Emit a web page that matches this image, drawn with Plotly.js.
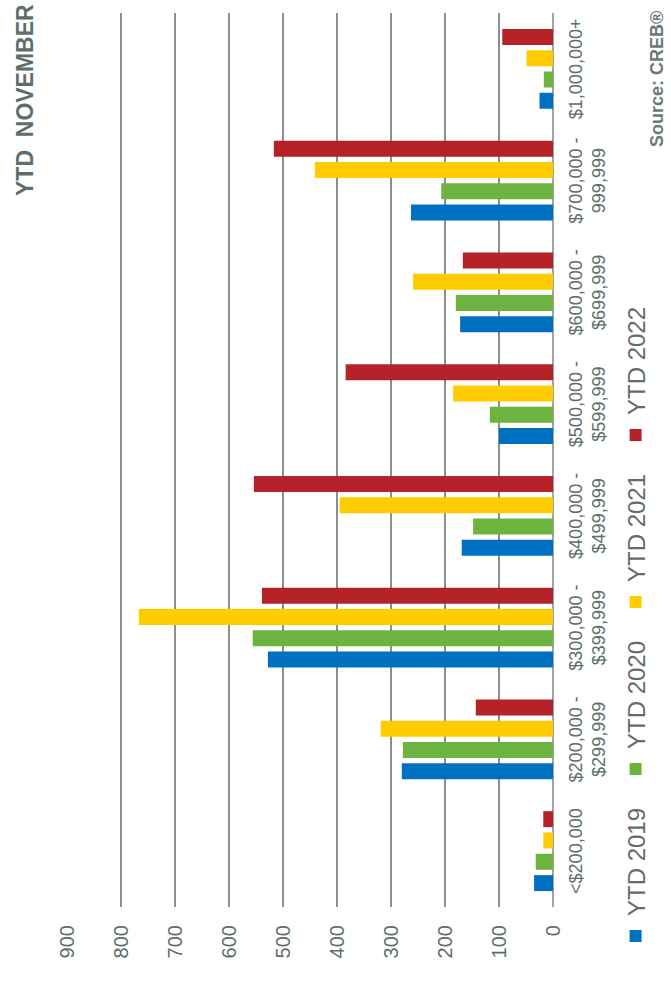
<!DOCTYPE html>
<html>
<head>
<meta charset="utf-8">
<script src="https://cdn.plot.ly/plotly-3.0.1.min.js"></script>
<style>
  html, body { margin: 0; padding: 0; background: #ffffff; }
  #wrap { position: relative; width: 671px; height: 994px; overflow: hidden; background: #fff; }
  #plot { position: absolute; left: 0; top: 0; width: 994px; height: 671px;
          transform-origin: 0 0; transform: translateY(994px) rotate(-90deg); }
</style>
</head>
<body>
<div id="wrap"><div id="plot"></div></div>
<script>
// ---- data ----
const categories = [
  "<$200,000",
  "$200,000 -<br>$299,999",
  "$300,000 -<br>$399,999",
  "$400,000 -<br>$499,999",
  "$500,000 -<br>$599,999",
  "$600,000 -<br>$699,999",
  "$700,000 -<br>999,999",
  "$1,000,000+"
];
const seriesNames = ["YTD 2019", "YTD 2020", "YTD 2021", "YTD 2022"];
const ytd2019 = [35, 280, 528, 169, 100, 172, 263, 25];
const ytd2020 = [32, 278, 556, 148, 117, 180, 207, 17];
const ytd2021 = [18, 319, 767, 395, 185, 259, 441, 49];
const ytd2022 = [18, 143, 539, 554, 384, 167, 517, 94];
const valueTicks = [0, 100, 200, 300, 400, 500, 600, 700, 800, 900];

// ---- styles ----
const colors = ["#0070C0", "#6DB33F", "#FFCC00", "#B52329"];
const textGray = "#5F6E6A";
const font = "Liberation Sans, Arial, sans-serif";

const seriesValues = [ytd2019, ytd2020, ytd2021, ytd2022];
const traces = seriesValues.map((vals, i) => ({
  type: "bar",
  name: seriesNames[i],
  x: categories,
  y: vals,
  marker: { color: colors[i], line: { width: 0 } },
  hoverinfo: "none"
}));

const W = 994, H = 671;
const L = 87, R = 13, T = 67, B = 118;
const pw = W - L - R, ph = H - T - B;
function px(xp) { return (xp - L) / pw; }
function py(yp) { return (H - B - yp) / ph; }

const layout = {
  width: W, height: H,
  margin: { l: L, r: R, t: T, b: B, pad: 0 },
  paper_bgcolor: "#ffffff",
  plot_bgcolor: "#ffffff",
  barmode: "group",
  bargap: 0.237,
  bargroupgap: 0.25,
  font: { family: font, color: textGray },
  xaxis: {
    type: "category",
    showgrid: false,
    zeroline: false,
    showline: false,
    ticks: "",
    tickfont: { size: 18, color: textGray, family: font },
    ticklabelstandoff: 10,
    fixedrange: true
  },
  yaxis: {
    range: [0, 900],
    tickvals: valueTicks,
    ticktext: valueTicks.map(String),
    showgrid: true,
    gridcolor: "#87928E",
    gridwidth: 1.3,
    zeroline: true,
    zerolinecolor: "#A3A3A3",
    zerolinewidth: 2,
    showline: false,
    ticks: "",
    tickfont: { size: 20, color: textGray, family: font },
    ticklabelstandoff: 17,
    fixedrange: true
  },
  showlegend: true,
  legend: {
    orientation: "h",
    xref: "container", yref: "container",
    x: 38 / W, xanchor: "left",
    y: 35 / H, yanchor: "middle",
    font: { size: 24, color: textGray, family: font },
    entrywidth: 122,
    entrywidthmode: "pixels",
    traceorder: "normal",
    bgcolor: "rgba(0,0,0,0)"
  },
  annotations: [
    {
      xref: "paper", yref: "paper",
      x: px(992), y: py(25),
      xanchor: "right", yanchor: "middle",
      text: "<b>YTD  NOVEMBER</b>",
      showarrow: false,
      font: { size: 23, color: textGray, family: font }
    },
    {
      xref: "paper", yref: "paper",
      x: px(985), y: py(657),
      xanchor: "right", yanchor: "middle",
      text: "<b>Source: CREB®</b>",
      showarrow: false,
      font: { size: 18, color: "#6B7A76", family: font }
    }
  ]
};

Plotly.newPlot("plot", traces, layout, { displayModeBar: false, staticPlot: true });
</script>
</body>
</html>
